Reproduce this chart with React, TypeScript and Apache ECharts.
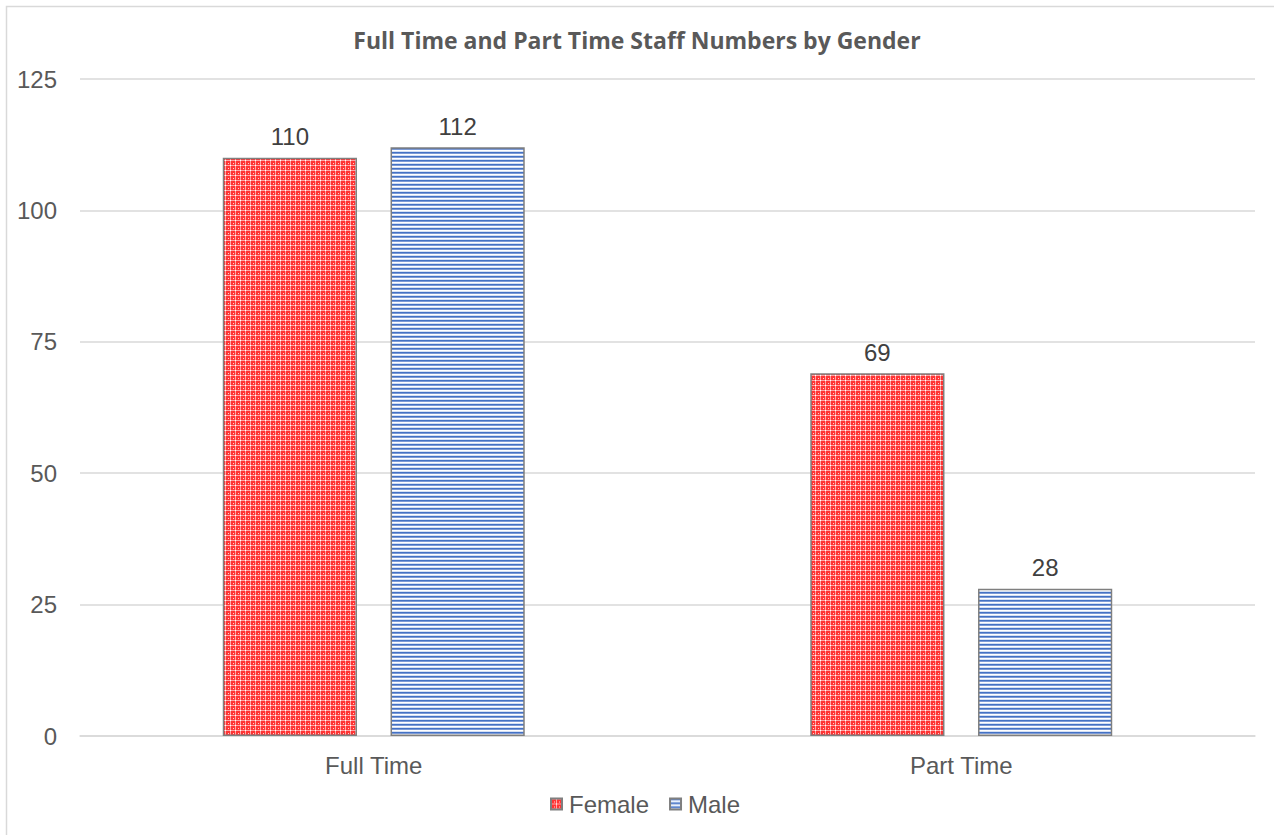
import React, { useEffect, useRef } from "react";
import * as echarts from "echarts";

const categories = ["Full Time", "Part Time"];
const femaleValues = [110, 69];
const maleValues = [112, 28];
const seriesNames = ["Female", "Male"];
const yTicks = { min: 0, max: 125, interval: 25 };
const titleText = "Full Time and Part Time Staff Numbers by Gender";

const FONT = "'Liberation Sans', Arial, sans-serif";

function makeFemalePattern(): HTMLCanvasElement {
  const c = document.createElement("canvas");
  c.width = 5;
  c.height = 5;
  const ctx = c.getContext("2d")!;
  ctx.fillStyle = "#FF3434";
  ctx.fillRect(0, 0, 5, 5);
  ctx.fillStyle = "#FFA4A4";
  ctx.fillRect(0, 0, 5, 1);
  ctx.fillRect(0, 0, 1, 5);
  ctx.fillStyle = "#FFFFFF";
  ctx.fillRect(0, 0, 1, 1);
  ctx.fillStyle = "#FFD0D0";
  ctx.fillRect(3, 3, 1, 1);
  return c;
}

function makeMalePattern(): HTMLCanvasElement {
  const c = document.createElement("canvas");
  c.width = 4;
  c.height = 4;
  const ctx = c.getContext("2d")!;
  const rows = ["#4472C4", "#7C9AD6", "#FFFFFF", "#D5E0F4"];
  rows.forEach((col, i) => {
    ctx.fillStyle = col;
    ctx.fillRect(0, i, 4, 1);
  });
  return c;
}

export default function App() {
  const ref = useRef<HTMLDivElement>(null);
  useEffect(() => {
    document.body.style.margin = "0";
    const chart = echarts.init(ref.current!, null, { renderer: "svg" });
    const femaleFill: any = { image: makeFemalePattern(), repeat: "repeat" };
    const maleFill: any = { image: makeMalePattern(), repeat: "repeat" };
    const labelStyle = {
      show: true,
      position: "top" as const,
      distance: 9,
      color: "#404040",
      fontSize: 24,
      fontFamily: FONT,
    };
    chart.setOption({
      animation: false,
      backgroundColor: "#ffffff",
      title: {
        text: titleText,
        left: "center",
        top: 23,
        textStyle: {
          color: "#595959",
          fontSize: 23,
          fontWeight: "bold",
          fontFamily: "'Open Sans', sans-serif",
        },
      },
      graphic: [
        {
          type: "rect",
          shape: { x: 6.5, y: 6.5, width: 1400, height: 1000 },
          style: { fill: "none", stroke: "#d9d9d9", lineWidth: 1.5 },
          silent: true,
          z: -1,
        },
      ],
      legend: {
        bottom: 14,
        left: 545,
        icon: "rect",
        itemWidth: 11,
        itemHeight: 11,
        itemGap: 20,
        textStyle: {
          color: "#595959",
          fontSize: 24,
          fontFamily: FONT,
          padding: [0, 0, 0, 2],
        },
        data: seriesNames,
      },
      grid: { left: 80, right: 19, top: 79, bottom: 99 },
      xAxis: {
        type: "category",
        data: categories,
        axisLine: { lineStyle: { color: "#d9d9d9", width: 1.5 } },
        axisTick: { show: false },
        axisLabel: {
          color: "#595959",
          fontSize: 24,
          margin: 17,
          fontFamily: FONT,
        },
      },
      yAxis: {
        type: "value",
        min: yTicks.min,
        max: yTicks.max,
        interval: yTicks.interval,
        axisLine: { show: false },
        axisTick: { show: false },
        splitLine: { lineStyle: { color: "#d9d9d9", width: 1.5 } },
        axisLabel: {
          color: "#595959",
          fontSize: 24,
          margin: 23,
          fontFamily: FONT,
        },
      },
      series: [
        {
          name: seriesNames[0],
          type: "bar",
          data: femaleValues,
          barGap: "25%",
          barCategoryGap: "48.6%",
          itemStyle: { color: femaleFill, borderColor: "#7f7f7f", borderWidth: 1.5 },
          label: labelStyle,
        },
        {
          name: seriesNames[1],
          type: "bar",
          data: maleValues,
          barGap: "25%",
          barCategoryGap: "48.6%",
          itemStyle: { color: maleFill, borderColor: "#7f7f7f", borderWidth: 1.5 },
          label: labelStyle,
        },
      ],
    });
    return () => chart.dispose();
  }, []);
  return <div ref={ref} style={{ width: 1274, height: 835 }} />;
}
